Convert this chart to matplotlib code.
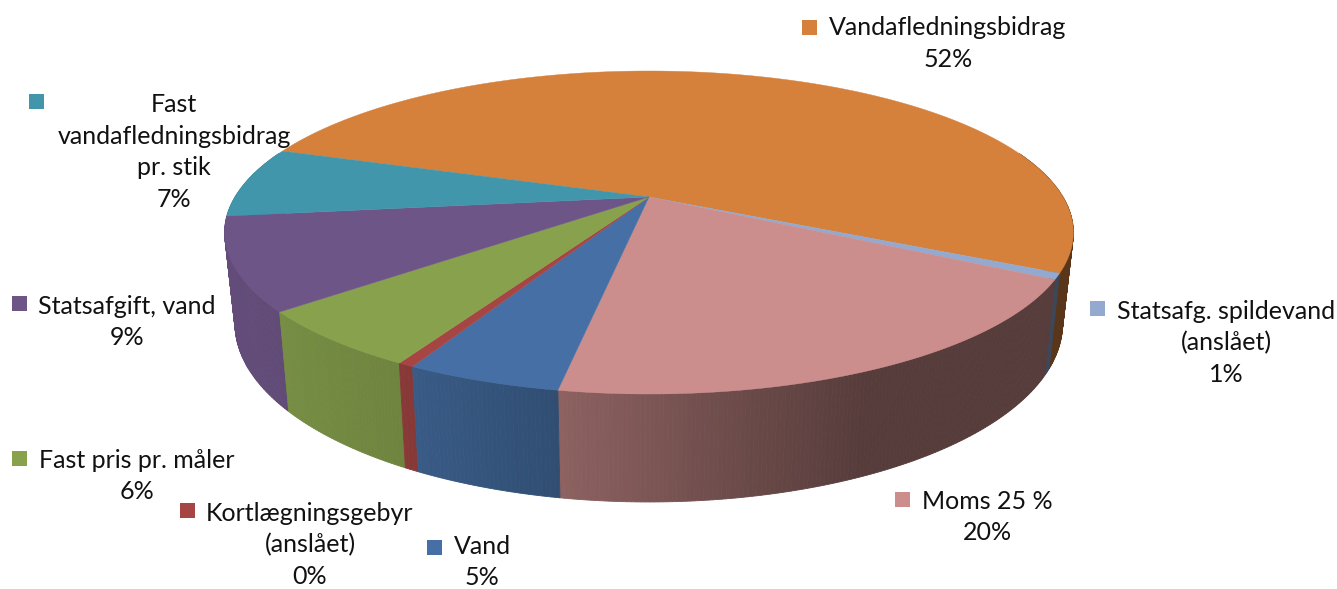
import numpy as np
import matplotlib
matplotlib.use('Agg')
import matplotlib.pyplot as plt
from matplotlib.patches import Polygon, Rectangle

# clockwise from the orange slice
names = ["Vandafledningsbidrag", "Statsafg. spildevand\n(anslået)", "Moms 25 %", "Vand",
         "Kortlægningsgebyr\n(anslået)", "Fast pris pr. måler", "Statsafgift, vand",
         "Fast\nvandafledningsbidrag\npr. stik"]
values = [52.3, 0.6, 19.8, 4.85, 0.5, 5.8, 9.2, 7.1]
pct_labels = ["52%", "1%", "20%", "5%", "0%", "6%", "9%", "7%"]
colors = ["#D5813C", "#93A9CF", "#CC8E8C", "#4670A5", "#A64644", "#87A14D", "#6E5587", "#4196AC"]

# label centre x, y of block centre, marker left, marker top (pixels)
label_pos = [(948, 43.5, 802, 20), (1226, 343, 1090, 301), (987, 517, 895, 492), (482, 562, 427, 540),
             (310, 545, 180, 503), (137, 476, 12, 451), (127, 322, 12, 296), (174, 152, 29, 94)]

# pie geometry, in pixels of the picture
CX, CY = 649, 197
B, A, K = 414, 153.7, 0.2198
START = 161.4
# how dark the side wall gets, by x position
shade_x = [225, 400, 560, 700, 870, 1074]
shade_v = [0.90, 0.82, 0.69, 0.56, 0.42, 0.42]


def rim(deg):
    t = np.radians(deg)
    u, v = np.cos(t), np.sin(t)
    w = 1 + K * v
    return CX + B * u / w, CY - A * v / w


def wall(x, y):
    return 0.975 * x + 16, 1.104 * y + 67


fig = plt.figure(figsize=(13.37, 5.89), dpi=100)
ax = fig.add_axes([0, 0, 1, 1])
ax.set_xlim(0, 1337)
ax.set_ylim(589, 0)
ax.axis('off')
plt.rcParams['font.family'] = ['Lato', 'DejaVu Sans']

spans = 360.0 * np.array(values) / sum(values)
ends = START - np.cumsum(spans)
starts = ends + spans
base = [matplotlib.colors.to_rgb(c) for c in colors]

# side walls first, back slices before front ones, the top covers the rest
order = sorted(range(len(values)), key=lambda i: -np.sin(np.radians((starts[i] + ends[i]) / 2)))
for i in order:
    a0, a1, c = starts[i], ends[i], base[i]
    steps = max(2, int((a0 - a1) * 2))
    angles = np.linspace(a0, a1, steps + 1)
    for p, q in zip(angles[:-1], angles[1:]):
        if np.sin(np.radians((p + q) / 2)) > 0.3:
            continue
        x0, y0 = rim(p)
        x1, y1 = rim(q)
        f = np.interp((x0 + x1) / 2, shade_x, shade_v)
        col = tuple(f * np.array(c))
        ax.add_patch(Polygon([(x0, y0), (x1, y1), wall(x1, y1), wall(x0, y0)],
                             facecolor=col, edgecolor=col, lw=0.6, zorder=2))

for a0, a1, c in zip(starts, ends, base):
    angles = np.linspace(a0, a1, max(3, int((a0 - a1) * 2)))
    pts = [(CX, CY)] + [rim(a) for a in angles]
    ax.add_patch(Polygon(pts, facecolor=c, edgecolor=c, lw=0.3, zorder=3))

for name, pct, pos, c in zip(names, pct_labels, label_pos, colors):
    ax.text(pos[0], pos[1], name + "\n" + pct, ha='center', va='center', fontsize=18,
            linespacing=1.44, color='#111111', zorder=5)
    ax.add_patch(Rectangle((pos[2], pos[3]), 15, 15, facecolor=c, edgecolor='none', zorder=5))

fig.savefig('out.png', dpi=100)
